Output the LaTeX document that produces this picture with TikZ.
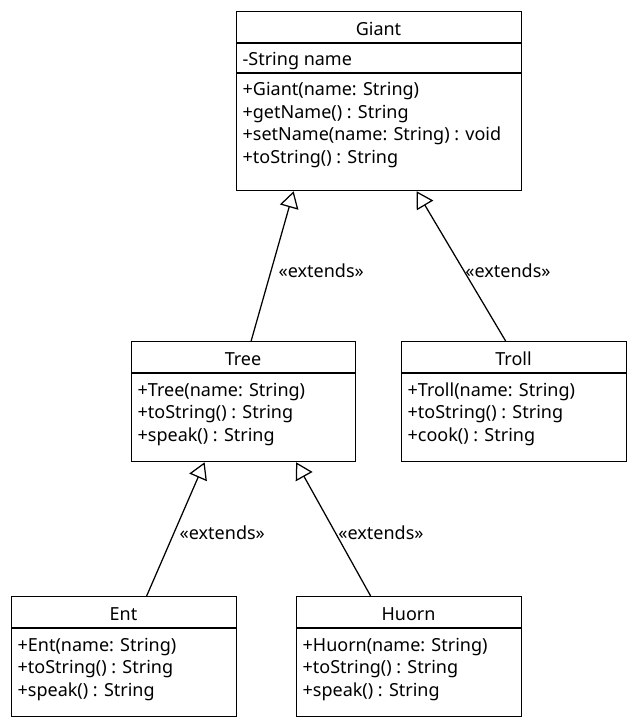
\documentclass[tikz,border=0pt]{standalone}
\usepackage{fontspec}
\setmainfont{Noto Sans}
\usetikzlibrary{arrows.meta,positioning}

\begin{document}
\begin{tikzpicture}[x=1pt,y=-1pt,line width=1.25pt,
    classbox/.style={draw,rectangle,inner sep=0pt,anchor=north west},
    classname/.style={anchor=base,inner sep=0pt,font=\fontsize{18}{22.5}\selectfont},
    members/.style={anchor=base west,align=left,inner sep=0pt,font=\fontsize{18}{22.5}\selectfont},
    extends/.style={-{Triangle[open,length=16.5pt,width=19pt]}},
    stereo/.style={inner sep=0pt,font=\fontsize{18}{22}\selectfont}]
    \useasboundingbox (0,0) rectangle (635,725);
    % Giant
    \node[classbox,minimum width=285pt,minimum height=179pt](giant)at(236,11){};
    \node[classname](giantname)at(378.5,35.5){Giant};
    \draw (236,43) -- (521,43);
    \node[members](giantattr)at(242,65.5){-String name};
    \draw (236,73) -- (521,73);
    \node[members](giantops)at(242,163){+Giant(name: String)\\+getName() : String\\+setName(name: String) : void\\+toString() : String};
    % Tree
    \node[classbox,minimum width=224pt,minimum height=120pt](tree)at(131,341){};
    \node[classname](treename)at(243,365){Tree};
    \draw (131,373) -- (355,373);
    \node[members](treeops)at(137,441){+Tree(name: String)\\+toString() : String\\+speak() : String};
    % Troll
    \node[classbox,minimum width=225pt,minimum height=120pt](troll)at(401,341){};
    \node[classname](trollname)at(513.5,365){Troll};
    \draw (401,373) -- (626,373);
    \node[members](trollops)at(407,441){+Troll(name: String)\\+toString() : String\\+cook() : String};
    % Ent
    \node[classbox,minimum width=225pt,minimum height=120pt](ent)at(11,596){};
    \node[classname](entname)at(123.5,620){Ent};
    \draw (11,628) -- (236,628);
    \node[members](entops)at(17,696){+Ent(name: String)\\+toString() : String\\+speak() : String};
    % Huorn
    \node[classbox,minimum width=225pt,minimum height=120pt](huorn)at(296,596){};
    \node[classname](huornname)at(408.5,620){Huorn};
    \draw (296,628) -- (521,628);
    \node[members](huornops)at(302,696){+Huorn(name: String)\\+toString() : String\\+speak() : String};
    % generalisations
    \draw[extends] ([xshift=7.5pt]tree.north) -- node[stereo,pos=0.47,right=7pt]{«extends»} ([xshift=-85.5pt]giant.south);
    \draw[extends] ([xshift=-8.5pt]troll.north) -- node[stereo,pos=0.47,right=1pt]{«extends»} ([xshift=37.5pt]giant.south);
    \draw[extends] ([xshift=22.5pt]ent.north) -- node[stereo,pos=0.474,right=5pt]{«extends»} ([xshift=-39pt]tree.south);
    \draw[extends] ([xshift=-38.5pt]huorn.north) -- node[stereo,pos=0.474,right=2.5pt]{«extends»} ([xshift=52.5pt]tree.south);
\end{tikzpicture}
\end{document}
